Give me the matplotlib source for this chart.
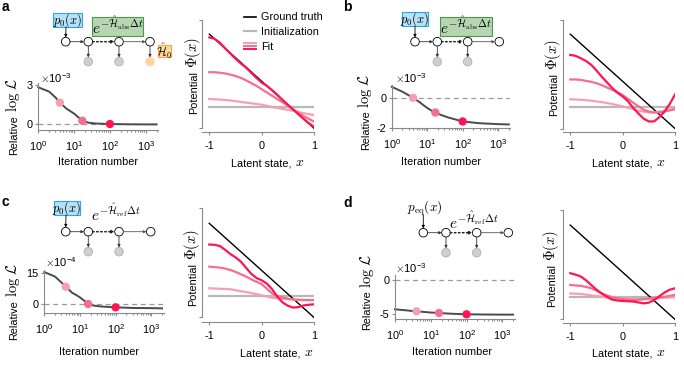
import matplotlib
matplotlib.use('Agg')
import matplotlib.pyplot as plt
from matplotlib.patches import Circle, Rectangle
from matplotlib.lines import Line2D
from matplotlib.legend_handler import HandlerBase
from matplotlib.ticker import LogLocator, NullFormatter

plt.rcParams['font.family'] = ['Liberation Sans', 'DejaVu Sans']
plt.rcParams['mathtext.fontset'] = 'cm'
plt.rcParams['axes.unicode_minus'] = False
plt.rcParams['font.size'] = 7.8

W, H = 684, 368

# ---- data ----
iters = [1, 2, 3, 4, 6, 8, 10, 14, 17, 25, 40, 100, 300, 1000, 2000]
loss_a = [2.82, 2.49, 2.05, 1.64, 1.2, 0.97, 0.8, 0.45, 0.25, 0.1, 0.04, 0.0, -0.02, -0.03, -0.03]
loss_b = [0.77, 0.44, 0.2, 0.03, -0.25, -0.48, -0.65, -0.87, -0.96, -1.13, -1.3, -1.56, -1.68, -1.74, -1.76]
loss_c = [15.5, 13.3, 10.5, 8.4, 5.5, 4.3, 3.2, 1.3, 0.0, -0.8, -1.2, -1.6, -1.9, -2.0, -2.1]
loss_d = [-4.35, -4.5, -4.6, -4.65, -4.73, -4.79, -4.83, -4.88, -4.9, -4.96, -5.02, -5.1, -5.13, -5.15, -5.15]

mark_iters = [4, 17, 100]
mark_a = [1.64, 0.25, 0.0]
mark_b = [0.03, -0.96, -1.56]
mark_c = [8.4, 0.0, -1.6]
mark_d = [-4.65, -4.9, -5.1]

xs = [-1.0, -0.9, -0.8, -0.7, -0.6, -0.5, -0.4, -0.3, -0.2, -0.1, 0.0,
      0.1, 0.2, 0.3, 0.4, 0.5, 0.6, 0.7, 0.8, 0.9, 1.0]
truth_x = [-1.0, 1.0]
truth = [1.0, -1.0]
init_x = [-1.0, 1.0]
init_a = [-0.54, -0.54]
init_c = [-0.55, -0.55]
init_d = [-0.53, -0.53]

fits_a = [
    [-0.38, -0.385, -0.39, -0.40, -0.41, -0.425, -0.44, -0.455, -0.47, -0.485, -0.50,
     -0.525, -0.55, -0.57, -0.59, -0.61, -0.63, -0.655, -0.68, -0.70, -0.72],
    [0.19, 0.19, 0.18, 0.165, 0.14, 0.11, 0.07, 0.02, -0.04, -0.10, -0.17,
     -0.24, -0.31, -0.38, -0.45, -0.52, -0.60, -0.67, -0.74, -0.80, -0.86],
    [0.93, 0.90, 0.82, 0.70, 0.59, 0.48, 0.38, 0.29, 0.18, 0.07, -0.03,
     -0.10, -0.19, -0.29, -0.40, -0.50, -0.60, -0.70, -0.80, -0.89, -0.97],
]
fits_b = [
    [-0.38, -0.385, -0.39, -0.40, -0.41, -0.425, -0.44, -0.46, -0.48, -0.505, -0.53,
     -0.56, -0.59, -0.62, -0.64, -0.66, -0.66, -0.645, -0.63, -0.60, -0.57],
    [0.04, 0.04, 0.03, 0.01, -0.01, -0.04, -0.08, -0.13, -0.18, -0.23, -0.29,
     -0.37, -0.45, -0.53, -0.60, -0.64, -0.66, -0.655, -0.64, -0.615, -0.59],
    [0.56, 0.54, 0.49, 0.43, 0.35, 0.23, 0.10, -0.02, -0.14, -0.24, -0.32,
     -0.42, -0.56, -0.68, -0.79, -0.85, -0.85, -0.76, -0.64, -0.48, -0.28],
]
fits_c = [
    [-0.38, -0.385, -0.39, -0.395, -0.40, -0.42, -0.44, -0.46, -0.48, -0.505, -0.53,
     -0.555, -0.58, -0.59, -0.60, -0.61, -0.62, -0.625, -0.63, -0.63, -0.63],
    [0.08, 0.07, 0.06, 0.04, 0.01, -0.03, -0.08, -0.13, -0.19, -0.24, -0.29,
     -0.39, -0.49, -0.54, -0.58, -0.60, -0.62, -0.625, -0.63, -0.63, -0.63],
    [0.55, 0.545, 0.52, 0.44, 0.35, 0.28, 0.19, 0.06, -0.07, -0.16, -0.21,
     -0.28, -0.40, -0.56, -0.68, -0.75, -0.79, -0.78, -0.745, -0.73, -0.72],
]
fits_d = [
    [-0.45, -0.455, -0.46, -0.475, -0.49, -0.505, -0.52, -0.535, -0.55, -0.555, -0.56,
     -0.565, -0.57, -0.57, -0.57, -0.565, -0.555, -0.55, -0.54, -0.535, -0.53],
    [-0.27, -0.28, -0.29, -0.31, -0.34, -0.39, -0.45, -0.49, -0.53, -0.55, -0.57,
     -0.58, -0.59, -0.585, -0.57, -0.56, -0.55, -0.535, -0.52, -0.50, -0.48],
    [-0.02, -0.05, -0.09, -0.17, -0.27, -0.37, -0.45, -0.52, -0.58, -0.60, -0.61,
     -0.615, -0.62, -0.64, -0.66, -0.645, -0.59, -0.51, -0.43, -0.37, -0.34],
]

fit_colors = ['#f4a0b1', '#f2708c', '#ff1553']
grey_spine = '#8a8a8a'

fig = plt.figure(figsize=(W / 100, H / 100), dpi=100)


def fx(px):
    return px / W


def fy(py):
    return 1 - py / H


def px_axes(left, top, right, bottom):
    return fig.add_axes([fx(left), fy(bottom), (right - left) / W, (bottom - top) / H])


def style(ax):
    for s in ['top', 'right']:
        ax.spines[s].set_visible(False)
    for s in ['left', 'bottom']:
        ax.spines[s].set_color(grey_spine)
        ax.spines[s].set_linewidth(0.8)
    ax.tick_params(which='both', color=grey_spine, width=0.8, labelsize=7.8)
    ax.tick_params(which='major', length=2.5)
    ax.tick_params(which='minor', length=1.5)
    ax.tick_params(axis='x', pad=4)
    ax.tick_params(axis='y', pad=1.5)


def vlabel(xb, ysplit, first, second, fs2=10.5):
    # rotated label: sans part below, math part above, sharing a baseline
    fig.text(fx(xb), fy(ysplit + 1.5), first, rotation=90, rotation_mode='anchor',
             ha='right', va='baseline', fontsize=7.8)
    fig.text(fx(xb), fy(ysplit - 1.5), second, rotation=90, rotation_mode='anchor',
             ha='left', va='baseline', fontsize=fs2)


def hlabel(xsplit, yb, first, second, fs2=10.5):
    fig.text(fx(xsplit - 1.5), fy(yb), first, ha='right', va='baseline', fontsize=7.8)
    fig.text(fx(xsplit + 1.5), fy(yb), second, ha='left', va='baseline', fontsize=fs2)


def loss_panel(box, ylim, yticks, loss, marks, ylab, xlab_xy, mult_xy, mult):
    ax = px_axes(*box)
    style(ax)
    ax.set_xscale('log')
    ax.set_xlim(1, 2200)
    ax.set_ylim(*ylim)
    ax.axhline(0, color='#9a9a9a', lw=0.9, ls=(0, (4, 3)), zorder=1)
    ax.plot(iters, loss, color='#4a4a4a', lw=1.4, zorder=2, clip_on=False)
    ax.scatter(mark_iters, marks, s=36, c=fit_colors, zorder=3, linewidths=0, clip_on=False)
    ax.xaxis.set_major_locator(LogLocator(base=10, numticks=10))
    ax.xaxis.set_minor_locator(LogLocator(base=10, subs=range(2, 10), numticks=20))
    ax.xaxis.set_minor_formatter(NullFormatter())
    ax.set_yticks(yticks)
    vlabel(ylab[0], ylab[1], 'Relative', r'$\log\,\mathcal{L}$', fs2=10.5)
    fig.text(fx(xlab_xy[0]), fy(xlab_xy[1]), 'Iteration number', ha='center', va='center')
    fig.text(fx(mult_xy[0]), fy(mult_xy[1]), r'$\times\mathdefault{10^{%d}}$' % mult,
             ha='left', va='center', fontsize=8)
    return ax


def pot_panel(box, ylim, init, fits, ylab, xlab):
    ax = px_axes(*box)
    style(ax)
    ax.set_xlim(-1.133, 1.0)
    ax.set_ylim(*ylim)
    ax.plot(truth_x, truth, color='k', lw=1.0, zorder=2)
    ax.plot(init_x, init, color='#b8b8b8', lw=1.6, zorder=1)
    for vals, c in zip(fits, fit_colors):
        ax.plot(xs, vals, color=c, lw=1.6, zorder=3)
    ax.set_xticks([-1, 0, 1])
    ax.set_xticklabels(['-1', '0', '1'])
    ax.set_yticks([-1, ylim[1]])
    ax.set_yticklabels([])
    ax.spines['left'].set_bounds(-1, ylim[1])
    vlabel(ylab[0], ylab[1], 'Potential', r'$\Phi(x)$', fs2=10.5)
    hlabel(xlab[0], xlab[1], 'Latent state,', r'$x$', fs2=10)
    return ax


loss_panel((38.3, 83, 158, 130), (-0.46, 3.15), [0, 3], loss_a, mark_a,
           (17.5, 113.3), (97.5, 162.3), (40, 78), -3)
loss_panel((391.7, 85, 510.3, 128.3), (-2.02, 0.89), [-2, 0], loss_b, mark_b,
           (369, 109), (440.8, 162.3), (395, 78), -3)
loss_panel((44.3, 270, 163.5, 313.3), (-4.5, 16.5), [0, 15], loss_c, mark_c,
           (17.5, 298.3), (99.2, 352.3), (45, 262), -4)
loss_panel((395, 274.7, 514.6, 318.7), (-5.76, 0.84), [-5, 0], loss_d, mark_d,
           (370.5, 289.2), (451.7, 351.7), (395, 268), -3)

pa = pot_panel((202.3, 20, 314, 132), (-1.08, 1.30), init_a, fits_a, (197, 69), (293.3, 166))
pot_panel((563.3, 20, 675, 132.3), (-1.08, 1.30), init_a, fits_b, (557, 72), (654, 166))
pot_panel((202.3, 208.3, 314, 321.7), (-1.09, 1.32), init_c, fits_c, (196.5, 261), (302.3, 356))
pot_panel((563.3, 210, 675, 322.7), (-1.07, 1.32), init_d, fits_d, (555, 262.5), (654, 356))


# legend with stacked fit lines
class HandlerFit(HandlerBase):
    def create_artists(self, legend, orig_handle, xdescent, ydescent, width, height, fontsize, trans):
        out = []
        y0 = height / 2 - ydescent
        for k, c in enumerate(fit_colors):
            dy = 2.2 * (1 - k)
            ln = Line2D([-xdescent, width - xdescent], [y0 + dy, y0 + dy], color=c, lw=1.4, transform=trans)
            out.append(ln)
        return out


h_truth = Line2D([], [], color='k', lw=1.2)
h_init = Line2D([], [], color='#b8b8b8', lw=1.6)
h_fit = Line2D([], [], color=fit_colors[2], lw=1.4)
pa.legend([h_truth, h_init, h_fit], ['Ground truth', 'Initialization', 'Fit'],
          handler_map={h_fit: HandlerFit()}, loc='upper left',
          bbox_to_anchor=(fx(244), fy(12.5)), bbox_transform=fig.transFigure,
          frameon=False, fontsize=7.8, handlelength=1.1, handletextpad=0.5,
          labelspacing=0.42, borderpad=0, borderaxespad=0)

# ---- schematic overlay ----
ov = fig.add_axes([0, 0, 1, 1], zorder=-1)
ov.set_xlim(0, W)
ov.set_ylim(H, 0)
ov.axis('off')

R = 4.3


def arrow(p0, p1, ls='-', lw=0.6, color='#333333'):
    ov.annotate('', xy=p1, xytext=p0,
                arrowprops=dict(arrowstyle='-|>', lw=lw, color=color, linestyle=ls,
                                mutation_scale=4, shrinkA=0, shrinkB=0))


def chain(node_x, y, obs_idx, y_obs, obs_colors):
    for nx in node_x:
        ov.add_patch(Circle((nx, y), R, facecolor='white', edgecolor='k', lw=0.6, zorder=3))
    arrow((node_x[0] + R, y), (node_x[1] - R, y))
    arrow((node_x[1] + R, y), (node_x[2] - R, y), ls=':', lw=1.1, color='#222222')
    arrow((node_x[2] + R, y), (node_x[3] - R, y), color='#555555')
    for i, c in zip(obs_idx, obs_colors):
        ov.add_patch(Circle((node_x[i], y_obs), R, facecolor=c[0], edgecolor=c[1], lw=0.5, zorder=3))
        arrow((node_x[i], y + R), (node_x[i], y_obs - R))


def box(x0, y0, x1, y1, fc, ec, text, fs=8):
    ov.add_patch(Rectangle((x0, y0), x1 - x0, y1 - y0, facecolor=fc, edgecolor=ec, lw=0.8, zorder=2))
    ov.text((x0 + x1) / 2, (y0 + y1) / 2, text, ha='center', va='center', fontsize=fs, zorder=4)


grey_obs = ('#cfcfcf', '#a8a8a8')
orange_obs = ('#ffd49c', '#ffd49c')
blue = ('#b6e2f8', '#2ea6e0')
green = ('#b6d6b1', '#4a984a')
orange = ('#ffd9a3', '#f4a640')
expo_abs = r'$e^{-\hat{\mathcal{H}}_{\rm abs}\Delta t}$'
expo_ref = r'$e^{-\hat{\mathcal{H}}_{\rm ref}\Delta t}$'

# panel a
box(53.3, 12.7, 81.7, 26.7, *blue, r'$p_0(x)$', fs=9)
arrow((66, 26.7), (65.7, 41.7 - R), color='k')
box(91.7, 16.7, 143.3, 35.7, *green, expo_abs, fs=11)
chain([65.7, 88.3, 119, 150], 41.7, [1, 2, 3], 61.7, [grey_obs, grey_obs, orange_obs])
box(157.7, 45, 171, 57.3, *orange, r'$\hat{\mathcal{H}}_0$', fs=8.5)

# panel b
box(401.7, 12, 428.3, 26.3, *blue, r'$p_0(x)$', fs=9)
arrow((415, 26.3), (415, 41.7 - R), color='k')
box(440, 16.7, 491.7, 35.7, *green, expo_abs, fs=11)
chain([415, 437.3, 467.7, 499.3], 41.7, [1, 2], 61.7, [grey_obs, grey_obs])

# panel c
box(54.3, 200.7, 80, 215, *blue, r'$p_0(x)$', fs=9)
arrow((66, 215), (65.7, 231.7 - R), color='k')
ov.text(116, 213.3, expo_ref, ha='center', va='center', fontsize=11)
chain([65.7, 88.3, 119, 150.7], 231.7, [1, 2], 251.7, [grey_obs, grey_obs])

# panel d
ov.text(425, 208.3, r'$p_{\rm eq}(x)$', ha='center', va='center', fontsize=9.5)
arrow((423.3, 215), (423.3, 232.7 - R), color='k')
ov.text(473.3, 221.7, expo_ref, ha='center', va='center', fontsize=11)
chain([423.3, 446, 476.7, 508.3], 232.7, [1, 2], 252.7, [grey_obs, grey_obs])

# panel letters
for letter, (lx, ly) in zip('abcd', [(2, 7), (343, 7), (2, 202), (343, 203)]):
    fig.text(fx(lx), fy(ly), letter, fontsize=10, fontweight='bold', va='center', ha='left')

fig.savefig('out.png', dpi=100)
